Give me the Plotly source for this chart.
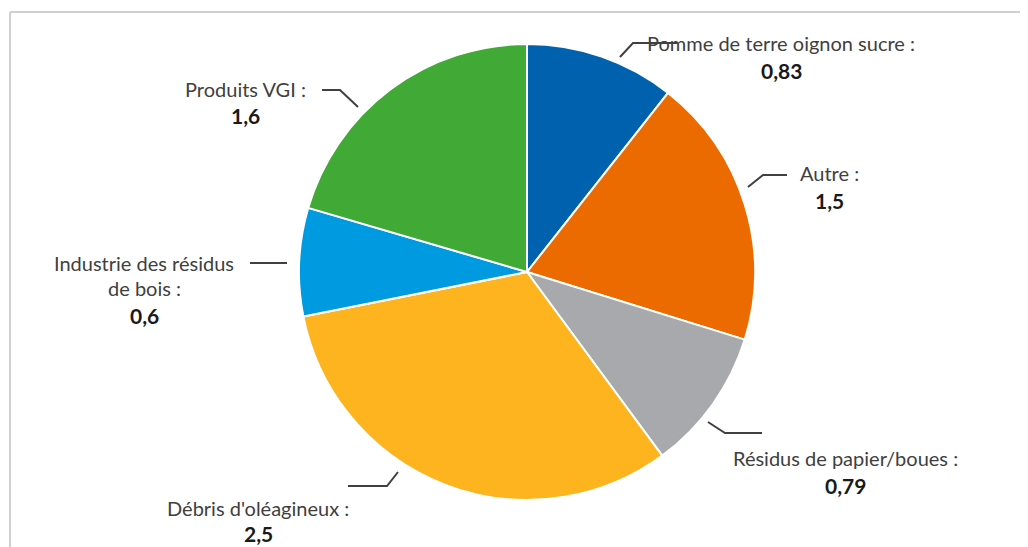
import plotly.graph_objects as go

# ---- data ----
categories = ["Pomme de terre oignon sucre", "Autre", "Résidus de papier/boues",
              "Débris d'oléagineux", "Industrie des résidus de bois", "Produits VGI"]
values = [0.83, 1.5, 0.79, 2.5, 0.6, 1.6]
value_labels = ["0,83", "1,5", "0,79", "2,5", "0,6", "1,6"]
label_lines = [["Pomme de terre oignon sucre :"], ["Autre :"], ["Résidus de papier/boues :"],
               ["Débris d'oléagineux :"], ["Industrie des résidus", "de bois :"], ["Produits VGI :"]]

# ---- style / layout ----
colors = ["#0062AE", "#EC6B00", "#A7A9AC", "#FDB41E", "#009AE0", "#41A935"]
OFF = 8                      # default page margin of the html body
W, H = 1028 - OFF, 547 - OFF
# label block centre (px, window coords) of first line
label_pos = [(781, 43), (829, 173), (845, 458), (258, 508), (144, 263), (245, 89)]
value_gap = [27, 27, 27, 25, 27, 27]
line_gap = 25
# leader polylines (px, window coords)
leaders = [
    [(620, 57), (633, 43), (677, 43)],
    [(748, 187), (763, 175), (787, 175)],
    [(708, 422), (725, 433), (762, 433)],
    [(398, 472), (387, 486), (348, 486)],
    [(287, 263), (250, 263)],
    [(358, 107), (340, 90), (322, 90)],
]
FONT = "Lato, 'Open Sans', sans-serif"

def px(x):
    return (x - OFF) / W

def py(y):
    return 1 - (y - OFF) / H

fig = go.Figure(go.Pie(
    labels=categories, values=values, sort=False, direction="clockwise", rotation=0,
    marker=dict(colors=colors, line=dict(color="white", width=2)),
    textinfo="none", hoverinfo="label+value", showlegend=False,
    domain=dict(x=[px(299), px(755)], y=[py(500), py(44)]),
))

annotations = []
for lines, val, (cx, cy), vg in zip(label_lines, value_labels, label_pos, value_gap):
    for i, t in enumerate(lines):
        annotations.append(dict(x=px(cx), y=py(cy + i * line_gap), xref="paper", yref="paper",
                                text=t, showarrow=False, xanchor="center", yanchor="middle",
                                font=dict(family=FONT, size=20, color="#404040")))
    annotations.append(dict(x=px(cx), y=py(cy + (len(lines) - 1) * line_gap + vg), xref="paper", yref="paper",
                            text="<b>" + val + "</b>", showarrow=False, xanchor="center", yanchor="middle",
                            font=dict(family=FONT, size=21, color="#1a1a1a")))

shapes = []
for pts in leaders:
    path = "M " + " L ".join(f"{px(x)} {py(y)}" for x, y in pts)
    shapes.append(dict(type="path", path=path, xref="paper", yref="paper",
                       line=dict(color="#404040", width=2)))
# frame
shapes.append(dict(type="line", xref="paper", yref="paper", x0=px(10), x1=1, y0=py(12), y1=py(12),
                   line=dict(color="#d0d0d0", width=2)))
shapes.append(dict(type="line", xref="paper", yref="paper", x0=px(10), x1=px(10), y0=py(12), y1=0,
                   line=dict(color="#d0d0d0", width=2)))

fig.update_layout(width=W, height=H, margin=dict(l=0, r=0, t=0, b=0),
                  paper_bgcolor="white", plot_bgcolor="white",
                  annotations=annotations, shapes=shapes)
fig.write_html("out.html")
